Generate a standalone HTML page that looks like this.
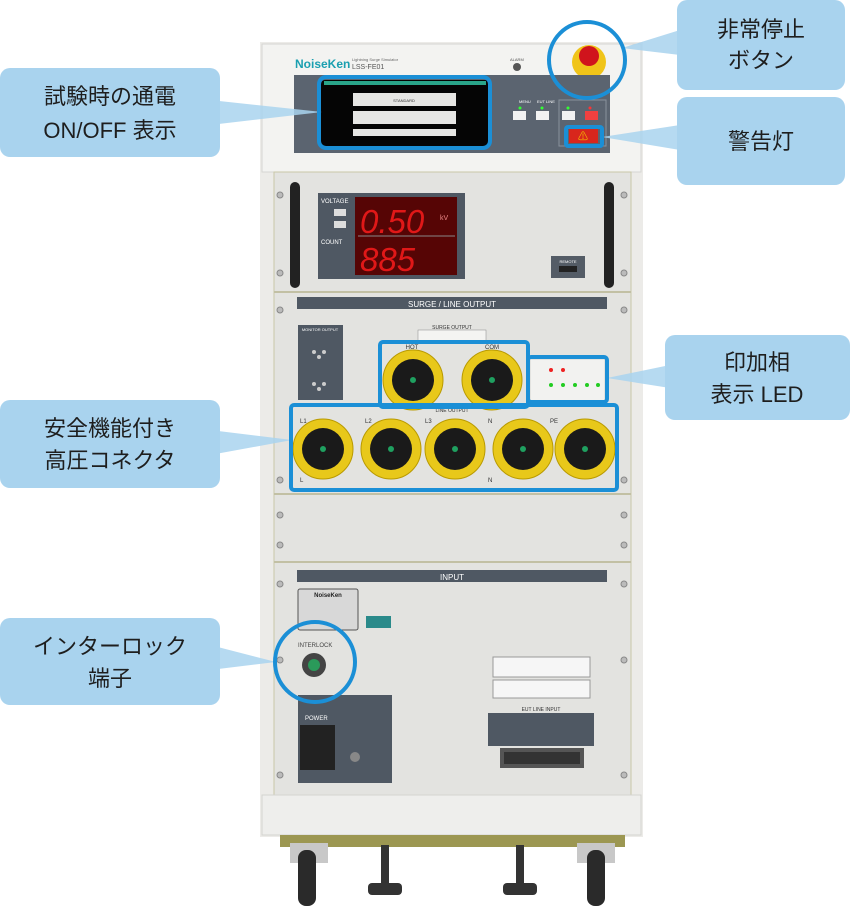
<!DOCTYPE html>
<html><head><meta charset="utf-8"><style>
html,body{margin:0;padding:0;background:#fff;width:850px;height:909px;overflow:hidden}
svg{display:block}
.t{font-family:"Liberation Sans","Noto Sans CJK JP",sans-serif}
</style></head><body>
<svg width="850" height="909" viewBox="0 0 850 909" xmlns="http://www.w3.org/2000/svg" class="t">
<!-- cabinet -->
<rect x="260" y="42" width="383" height="795" fill="#ecebe8"/>
<rect x="262" y="44" width="379" height="128" fill="#f3f3f1" stroke="#d6d6d2"/>
<rect x="274" y="172" width="357" height="623" fill="#e3e3e0" stroke="#c9c7a8"/>
<rect x="262" y="795" width="379" height="40" fill="#eeeeec" stroke="#d4d4d0"/>
<line x1="274" y1="292" x2="631" y2="292" stroke="#c2c0a4" stroke-width="2"/>
<line x1="274" y1="494" x2="631" y2="494" stroke="#c2c0a4" stroke-width="2"/>
<line x1="274" y1="562" x2="631" y2="562" stroke="#c2c0a4" stroke-width="2"/>
<!-- screws -->
<g fill="#bbb" stroke="#888"><circle cx="280" cy="195" r="3"/><circle cx="280" cy="273" r="3"/><circle cx="624" cy="195" r="3"/><circle cx="624" cy="273" r="3"/><circle cx="280" cy="310" r="3"/><circle cx="624" cy="310" r="3"/><circle cx="280" cy="480" r="3"/><circle cx="624" cy="480" r="3"/><circle cx="280" cy="515" r="3"/><circle cx="624" cy="515" r="3"/><circle cx="280" cy="545" r="3"/><circle cx="624" cy="545" r="3"/><circle cx="280" cy="584" r="3"/><circle cx="624" cy="584" r="3"/><circle cx="280" cy="660" r="3"/><circle cx="624" cy="660" r="3"/><circle cx="280" cy="775" r="3"/><circle cx="624" cy="775" r="3"/></g>
<!-- top logo -->
<text x="295" y="68" font-size="12" font-weight="bold" fill="#1a9fb0">NoiseKen</text>
<text x="352" y="61" font-size="4" fill="#666">Lightning Surge Simulator</text>
<text x="352" y="69" font-size="7" fill="#555">LSS-FE01</text>
<circle cx="517" cy="67" r="4" fill="#555"/><text x="510" y="61" font-size="4" fill="#555">ALARM</text>
<circle cx="589" cy="62" r="17" fill="#f0c419"/><circle cx="589" cy="56" r="10" fill="#d0141c"/>
<!-- control panel -->
<rect x="294" y="75" width="316" height="78" fill="#5b6470"/>
<rect x="321" y="80" width="168" height="66" rx="4" fill="#050505"/>
<rect x="324" y="81" width="162" height="4" fill="#2aa58a"/>
<rect x="353" y="93" width="103" height="13" fill="#e6e6e4"/><text x="404" y="102" font-size="4" text-anchor="middle" fill="#333">STANDARD</text>
<rect x="353" y="111" width="103" height="13" fill="#e6e6e4"/>
<rect x="353" y="129" width="103" height="7" fill="#e6e6e4"/>
<rect x="559" y="100" width="47" height="46" fill="none" stroke="#8a929c"/>
<text x="519" y="103" font-size="4" fill="#fff">MENU</text><text x="537" y="103" font-size="4" fill="#fff">EUT LINE</text>
<g fill="#3f3"><circle cx="520" cy="108" r="1.5"/><circle cx="542" cy="108" r="1.5"/><circle cx="568" cy="108" r="1.5"/></g><circle cx="590" cy="108" r="1.5" fill="#f33"/>
<rect x="513" y="111" width="13" height="9" fill="#f2f2f2"/><rect x="536" y="111" width="13" height="9" fill="#f2f2f2"/><rect x="562" y="111" width="13" height="9" fill="#f2f2f2"/><rect x="585" y="111" width="13" height="9" fill="#f04040"/>
<rect x="569" y="129" width="29" height="14" fill="#d8261c"/><text x="583" y="140" font-size="10" text-anchor="middle" fill="#f5c000">⚠</text>
<!-- display section -->
<rect x="290" y="182" width="10" height="106" rx="5" fill="#222"/><rect x="604" y="182" width="10" height="106" rx="5" fill="#222"/>
<rect x="318" y="193" width="147" height="86" fill="#4f5863"/>
<rect x="355" y="197" width="102" height="78" fill="#560505"/>
<text x="360" y="233" font-size="33" fill="#e01818" font-style="italic">0.50</text><text x="440" y="220" font-size="7" fill="#e88">kV</text>
<line x1="358" y1="236" x2="455" y2="236" stroke="#888"/>
<text x="360" y="271" font-size="33" fill="#e01818" font-style="italic">885</text>
<text x="321" y="203" font-size="6" fill="#fff">VOLTAGE</text><text x="321" y="244" font-size="6" fill="#fff">COUNT</text>
<rect x="334" y="209" width="12" height="7" fill="#ddd"/><rect x="334" y="221" width="12" height="7" fill="#ddd"/>
<rect x="551" y="256" width="34" height="22" fill="#545c66"/><text x="568" y="263" font-size="4" fill="#fff" text-anchor="middle">REMOTE</text><rect x="559" y="266" width="18" height="6" fill="#222"/>
<!-- surge/line output -->
<rect x="297" y="297" width="310" height="12" fill="#4f5863"/><text x="452" y="307" font-size="8" fill="#fff" text-anchor="middle">SURGE / LINE OUTPUT</text>
<rect x="298" y="325" width="45" height="75" fill="#4f5863"/><text x="320" y="331" font-size="4" fill="#fff" text-anchor="middle">MONITOR OUTPUT</text>
<g fill="#ccc"><circle cx="314" cy="352" r="2"/><circle cx="324" cy="352" r="2"/><circle cx="319" cy="357" r="2"/><circle cx="314" cy="384" r="2"/><circle cx="324" cy="384" r="2"/><circle cx="319" cy="389" r="2"/></g>
<rect x="418" y="330" width="68" height="11" fill="#f4f4f2" stroke="#888" stroke-width=".5"/>
<text x="452" y="329" font-size="5" fill="#333" text-anchor="middle">SURGE OUTPUT</text>
<text x="412" y="349" font-size="6" fill="#333" text-anchor="middle">HOT</text><text x="492" y="349" font-size="6" fill="#333" text-anchor="middle">COM</text>
<text x="452" y="412" font-size="5" fill="#333" text-anchor="middle">LINE OUTPUT</text>
<g font-size="6" fill="#333"><text x="300" y="423">L1</text><text x="365" y="423">L2</text><text x="425" y="423">L3</text><text x="488" y="423">N</text><text x="550" y="423">PE</text><text x="300" y="482">L</text><text x="488" y="482">N</text></g>
<g>
<circle cx="413" cy="380" r="30" fill="#e8c81a" stroke="#b99a00"/><circle cx="413" cy="380" r="21" fill="#1a1a1a"/><circle cx="413" cy="380" r="3" fill="#1fa060"/>
<circle cx="492" cy="380" r="30" fill="#e8c81a" stroke="#b99a00"/><circle cx="492" cy="380" r="21" fill="#1a1a1a"/><circle cx="492" cy="380" r="3" fill="#1fa060"/>
<circle cx="323" cy="449" r="30" fill="#e8c81a" stroke="#b99a00"/><circle cx="323" cy="449" r="21" fill="#1a1a1a"/><circle cx="323" cy="449" r="3" fill="#1fa060"/>
<circle cx="391" cy="449" r="30" fill="#e8c81a" stroke="#b99a00"/><circle cx="391" cy="449" r="21" fill="#1a1a1a"/><circle cx="391" cy="449" r="3" fill="#1fa060"/>
<circle cx="455" cy="449" r="30" fill="#e8c81a" stroke="#b99a00"/><circle cx="455" cy="449" r="21" fill="#1a1a1a"/><circle cx="455" cy="449" r="3" fill="#1fa060"/>
<circle cx="523" cy="449" r="30" fill="#e8c81a" stroke="#b99a00"/><circle cx="523" cy="449" r="21" fill="#1a1a1a"/><circle cx="523" cy="449" r="3" fill="#1fa060"/>
<circle cx="585" cy="449" r="30" fill="#e8c81a" stroke="#b99a00"/><circle cx="585" cy="449" r="21" fill="#1a1a1a"/><circle cx="585" cy="449" r="3" fill="#1fa060"/>
</g>
<rect x="531" y="360" width="73" height="40" fill="#f2f2f0"/>
<g fill="#e22"><circle cx="551" cy="370" r="2"/><circle cx="563" cy="370" r="2"/></g>
<g fill="#2c2"><circle cx="551" cy="385" r="2"/><circle cx="563" cy="385" r="2"/><circle cx="575" cy="385" r="2"/><circle cx="587" cy="385" r="2"/><circle cx="598" cy="385" r="2"/></g>
<!-- input -->
<rect x="297" y="570" width="310" height="12" fill="#4f5863"/><text x="452" y="580" font-size="8" fill="#fff" text-anchor="middle">INPUT</text>
<rect x="298" y="589" width="60" height="41" rx="2" fill="#d8d8d8" stroke="#555"/><text x="328" y="597" font-size="6" font-weight="bold" text-anchor="middle" fill="#222">NoiseKen</text>
<rect x="366" y="616" width="25" height="12" fill="#2a8a8a"/>
<text x="298" y="647" font-size="6" fill="#444">INTERLOCK</text>
<circle cx="314" cy="665" r="12" fill="#444"/><circle cx="314" cy="665" r="6" fill="#2a9a5a"/>
<rect x="298" y="695" width="94" height="88" fill="#4f5863"/><text x="305" y="720" font-size="6" fill="#fff">POWER</text>
<rect x="300" y="725" width="35" height="45" fill="#222"/><circle cx="355" cy="757" r="5" fill="#888"/>
<rect x="493" y="657" width="97" height="20" fill="#f6f6f6" stroke="#999"/><rect x="493" y="680" width="97" height="18" fill="#f6f6f6" stroke="#999"/>
<text x="541" y="711" font-size="5" fill="#333" text-anchor="middle">EUT LINE INPUT</text>
<rect x="488" y="713" width="106" height="33" fill="#4f5863"/>
<rect x="500" y="748" width="84" height="20" fill="#555"/><rect x="504" y="752" width="76" height="12" fill="#333"/>
<!-- base & wheels -->
<rect x="280" y="835" width="345" height="12" fill="#9c9752"/>
<rect x="290" y="843" width="38" height="20" fill="#c8c8c8"/><rect x="577" y="843" width="38" height="20" fill="#c8c8c8"/>
<rect x="298" y="850" width="18" height="56" rx="8" fill="#2a2a2a"/><rect x="587" y="850" width="18" height="56" rx="8" fill="#2a2a2a"/>
<rect x="381" y="845" width="8" height="40" fill="#333"/><rect x="368" y="883" width="34" height="12" rx="4" fill="#333"/>
<rect x="516" y="845" width="8" height="40" fill="#333"/><rect x="503" y="883" width="34" height="12" rx="4" fill="#333"/>
<!-- pointers -->
<g fill="#a9d3ee" opacity=".85">
<polygon points="210,100 210,125 322,112"/>
<polygon points="680,30 680,55 622,48"/>
<polygon points="680,125 680,150 602,137"/>
<polygon points="670,365 670,388 607,378"/>
<polygon points="210,430 210,455 292,440"/>
<polygon points="210,645 210,670 276,662"/>
</g>
<!-- callouts -->
<g fill="#a9d3ee">
<rect x="0" y="68" width="220" height="89" rx="10"/>
<rect x="677" y="0" width="168" height="90" rx="10"/>
<rect x="677" y="97" width="168" height="88" rx="10"/>
<rect x="665" y="335" width="185" height="85" rx="10"/>
<rect x="0" y="400" width="220" height="88" rx="10"/>
<rect x="0" y="618" width="220" height="87" rx="10"/>
</g>
<g font-size="22" fill="#1e1e1e" text-anchor="middle">
<text x="110" y="104">試験時の通電</text><text x="110" y="138">ON/OFF 表示</text>
<text x="761" y="37">非常停止</text><text x="761" y="68">ボタン</text>
<text x="761" y="149">警告灯</text>
<text x="757" y="370">印加相</text><text x="757" y="402">表示 LED</text>
<text x="110" y="436">安全機能付き</text><text x="110" y="468">高圧コネクタ</text>
<text x="110" y="654">インターロック</text><text x="110" y="686">端子</text>
</g>
<!-- highlights -->
<g fill="none" stroke="#1b8fd6" stroke-width="4">
<rect x="319" y="77" width="171" height="71" rx="7"/>
<circle cx="587" cy="60" r="38"/>
<rect x="566" y="127" width="36" height="19" rx="2"/>
<rect x="528" y="357" width="79" height="45" rx="3"/>
<rect x="380" y="342" width="148" height="65" rx="3"/>
<rect x="291" y="405" width="326" height="85" rx="3"/>
<circle cx="315" cy="662" r="40"/>
</g>
</svg>
</body></html>
